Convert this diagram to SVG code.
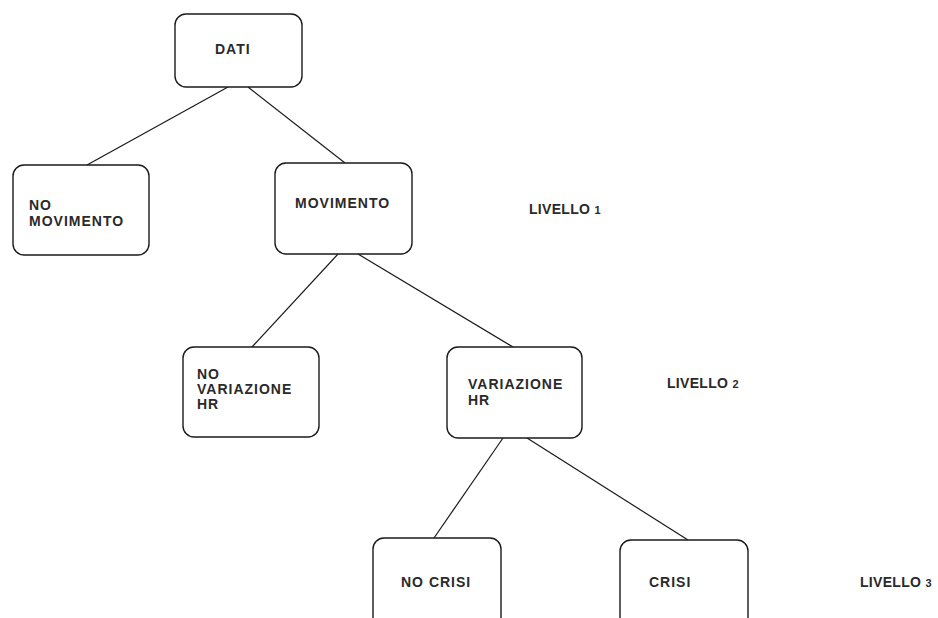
<svg xmlns="http://www.w3.org/2000/svg" width="938" height="618" viewBox="0 0 938 618">
  <style>
    .box { fill: #ffffff; stroke: #1a1a1a; stroke-width: 1.4; }
    .edge { stroke: #1a1a1a; stroke-width: 1.2; fill: none; }
    text { font-family: "Liberation Sans", Arial, sans-serif; font-size: 14px; fill: #2a2a2a; letter-spacing: 1px; font-weight: 600; }
    text.level { letter-spacing: 0.3px; }
    .num { font-size: 11px; }
  </style>
  <rect width="938" height="618" fill="#ffffff"/>

  <g id="connectors">
    <line class="edge" x1="228" y1="87" x2="87" y2="165"/>
    <line class="edge" x1="248" y1="87" x2="345" y2="163"/>
    <line class="edge" x1="338" y1="254" x2="252" y2="347"/>
    <line class="edge" x1="358" y1="254" x2="513" y2="347"/>
    <line class="edge" x1="503" y1="438" x2="434" y2="538"/>
    <line class="edge" x1="527" y1="438" x2="688" y2="540"/>
  </g>

  <g id="node-dati">
    <rect class="box" x="175" y="14" width="127" height="73" rx="11"/>
    <text x="215" y="54">DATI</text>
  </g>

  <g id="node-no-movimento">
    <rect class="box" x="13" y="165" width="136" height="90" rx="11"/>
    <text x="29" y="210">NO</text>
    <text x="29" y="226">MOVIMENTO</text>
  </g>

  <g id="node-movimento">
    <rect class="box" x="275" y="163" width="137" height="91" rx="11"/>
    <text x="295" y="208">MOVIMENTO</text>
  </g>

  <g id="node-no-variazione">
    <rect class="box" x="183" y="347" width="136" height="90" rx="11"/>
    <text x="197" y="379">NO</text>
    <text x="197" y="394">VARIAZIONE</text>
    <text x="197" y="409">HR</text>
  </g>

  <g id="node-variazione">
    <rect class="box" x="447" y="347" width="135" height="91" rx="11"/>
    <text x="468" y="389">VARIAZIONE</text>
    <text x="468" y="405">HR</text>
  </g>

  <g id="node-no-crisi">
    <rect class="box" x="373" y="538" width="128" height="100" rx="11"/>
    <text x="401" y="587">NO CRISI</text>
  </g>

  <g id="node-crisi">
    <rect class="box" x="620" y="540" width="128" height="100" rx="11"/>
    <text x="649" y="587">CRISI</text>
  </g>

  <g id="level-labels">
    <text class="level" x="529" y="214">LIVELLO <tspan class="num">1</tspan></text>
    <text class="level" x="667" y="388">LIVELLO <tspan class="num">2</tspan></text>
    <text class="level" x="860" y="587">LIVELLO <tspan class="num">3</tspan></text>
  </g>
</svg>
